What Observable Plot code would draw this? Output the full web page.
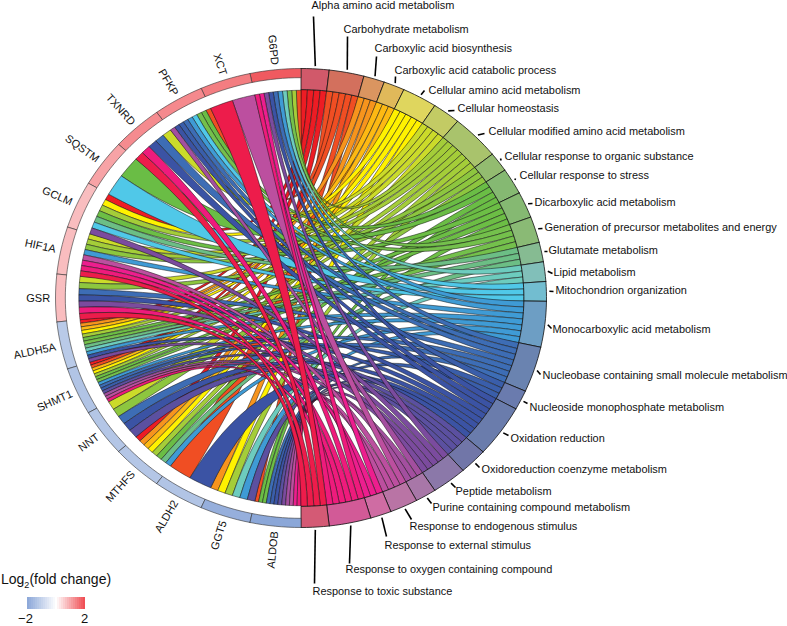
<!DOCTYPE html>
<html><head><meta charset="utf-8">
<script src="https://cdn.jsdelivr.net/npm/d3@7"></script>
<script src="https://cdn.jsdelivr.net/npm/@observablehq/plot@0.6"></script>
<style>
body{margin:0;background:#fff;font-family:"Liberation Sans",Arial,sans-serif}
#wrap{position:relative;width:787px;height:626px;overflow:hidden}
#legendTitle{position:absolute;left:1px;top:571px;font-size:14px;color:#111;line-height:17px;white-space:nowrap}
#legendTitle sub{font-size:9px;line-height:0}
</style></head><body><div id="wrap"><div id="chart"></div><div id="legendTitle">Log<sub>2</sub>(fold change)</div></div>
<script>
const terms=["Alpha amino acid metabolism","Carbohydrate metabolism","Carboxylic acid biosynthesis","Carboxylic acid catabolic process","Cellular amino acid metabolism","Cellular homeostasis","Cellular modified amino acid metabolism","Cellular response to organic substance","Cellular response to stress","Dicarboxylic acid metabolism","Generation of precursor metabolites and energy","Glutamate metabolism","Lipid metabolism","Mitochondrion organization","Monocarboxylic acid metabolism","Nucleobase containing small molecule metabolism","Nucleoside monophosphate metabolism","Oxidation reduction","Oxidoreduction coenzyme metabolism","Peptide metabolism","Purine containing compound metabolism","Response to endogenous stimulus","Response to external stimulus","Response to oxygen containing compound","Response to toxic substance"];
const ribbonColors=["#ED1C24","#F04E23","#F7941D","#FDB913","#FFF200","#CBDB2A","#A4CD39","#8DC63F","#6ABD45","#6CBE45","#74C04C","#6CBE85","#6DCCBE","#50C8E8","#3F9BD5","#3D6DB5","#3A5EAA","#3B53A4","#5B50A0","#7B4B9E","#A34F9F","#BC4F9F","#EC1E8E","#EE1B7C","#ED1C4B"];
const termArcColors=["#D1596A","#D3705D","#DA9560","#E0B95A","#DFD65E","#C3CB64","#A9C36C","#93BC70","#85B972","#85B972","#8ABA75","#86BB92","#81BFB9","#72BDD0","#6D9EC4","#6A83B0","#6A7BAE","#6A7CAC","#7176A8","#8B78A9","#A877A8","#B974A5","#CF6CA3","#D25A97","#D45A75"];
const genes=["G6PD","XCT","PFKP","TXNRD","SQSTM","GCLM","HIF1A","GSR","ALDH5A","SHMT1","NNT","MTHFS","ALDH2","GGT5","ALDOB"];
const foldChange=[1.82,1.44,1.3,1.28,1.02,0.73,0.73,0.73,-1.2,-1.33,-1.28,-1.28,-1.33,-1.8,-1.98];
// membership: term numbers (1-based) linked to each gene
const geneTerms=[
 [2,7,11,13,15,16,18,20,23,24],
 [22,25],
 [2,9,11,14,15,16,17,18,21],
 [6,16,18,24,25],
 [9,14],
 [1,5,7,10,12,14,20],
 [6,7,8,15,22,23,24,25],
 [6,8,16,18,20,24,25],
 [1,3,4,5,7,10,11,12,13,15,18,20],
 [1,2,4,5,7,10,11,15,16,17,19,21,22,24],
 [6,8,16,18,19],
 [1,3,4,5,7,9,12,15],
 [2,18],
 [3,5,7,13,15,19],
 [2,9,10,16,17,18,19,20,21,22,23,24]
];
const legendTicks=[-2,2];
// layout (page pixels) for the annotation text and the leader ends
const labelAnchors=[[311,5],[343,29],[374,48],[394,70],[428,90],[457,108],[488,131],[504,156],[519,175],[534,202],[544,227],[548,250],[553,272],[555,290],[552,329],[542,375],[529,407],[510,438],[481,469],[455,491],[432,507],[409,526],[384,545],[345,569],[312,591]];
const leaderEnds=[[313,16],[347,36],[376,56],[395,76],[424,90],[454,110],[484,133],[500,158],[515,178],[532,203],[542,228],[547,251],[552,273],[553,291],[551,328],[540,374],[527,403],[508,435],[479,467],[455,487],[431,503],[411,519],[386,536],[349,563],[314,583]];

const W=787,H=626,cx=300.5,cy=297.5,rx=245.5,ry=229.5;
const rTermIn=.908,rGeneIn=.96,rRibbonGene=.905;
const rad=a=>a*Math.PI/180;
const pol=(r,a)=>[r*Math.sin(rad(a)),r*Math.cos(rad(a))];
const ux=p=>(p-cx)/rx, uy=p=>(cy-p)/ry;

const counts=terms.map((_,t)=>d3.sum(geneTerms,g=>g.includes(t+1)?1:0));
const total=d3.sum(counts),unit=180/total;
const termStart=[];let acc=0;counts.forEach(c=>{termStart.push(acc);acc+=c*unit;});
const termUsed=terms.map(()=>0);

const arcPts=(r,a0,a1,n=8)=>d3.range(n+1).map(i=>pol(r,a0+(a1-a0)*i/n));
const bez=(p,q,n=28)=>d3.range(1,n).map(i=>{const t=i/n,u=1-t;return [u*u*p[0]+t*t*q[0],u*u*p[1]+t*t*q[1]];});
const band=(r0,r1,a0,a1)=>{const n=Math.max(4,Math.ceil((a1-a0)/1.5));const o=arcPts(r1,a0,a1,n),i=arcPts(r0,a1,a0,n);return [...o,...i,o[0]];};

const ribbons=[];
genes.forEach((g,gi)=>{
  const w=12/geneTerms[gi].length;
  geneTerms[gi].forEach((t,k)=>{
    const ti=t-1,u=termUsed[ti]++;
    const t0=termStart[ti]+u*unit,t1=t0+unit;
    const g0=360-12*gi-(k+1)*w,g1=g0+w;
    const A=arcPts(rTermIn,t0,t1,4),B=arcPts(rRibbonGene,g0,g1,Math.max(3,Math.ceil(w)));
    const pts=[...A,...bez(A[A.length-1],B[0]),...B,...bez(B[B.length-1],A[0]),A[0]];
    ribbons.push({term:ti,gene:gi,pts});
  });
});
ribbons.sort((a,b)=>a.term-b.term||a.gene-b.gene);
const ribbonPts=ribbons.flatMap((r,i)=>r.pts.map(p=>({x:p[0],y:p[1],id:i,c:ribbonColors[r.term]})));
const termPts=terms.flatMap((t,i)=>band(rTermIn,1,termStart[i],termStart[i]+counts[i]*unit).map(p=>({x:p[0],y:p[1],id:i,c:termArcColors[i]})));
const genePts=genes.flatMap((g,i)=>band(rGeneIn,1,360-12*(i+1),360-12*i).map(p=>({x:p[0],y:p[1],id:i,fc:foldChange[i]})));

const leaders=terms.map((t,i)=>{const s=pol(1.012,termStart[i]+counts[i]*unit/2);return {x1:s[0],y1:s[1],x2:ux(leaderEnds[i][0]),y2:uy(leaderEnds[i][1])};});
const termLabels=terms.map((t,i)=>({t,x:ux(labelAnchors[i][0]),y:uy(labelAnchors[i][1])}));
const geneLabels=genes.map((g,i)=>{const a=360-12*i-6,p=pol(1.022,a);return {g,x:p[0],y:p[1],rot:90-(12*i+6)};});

// colour key, drawn through the same colour scale
const keyLeft=27,keyRight=85,keyTop=597,keyBottom=609,keySteps=29;
const key=d3.range(keySteps).map(i=>({
  x1:ux(keyLeft+(keyRight-keyLeft)*i/keySteps),
  x2:ux(keyLeft+(keyRight-keyLeft)*(i+1)/keySteps),
  v:-2+4*(i+.5)/keySteps}));
const keyLabels=legendTicks.map(v=>({
  x:ux(v<0?25:84),y:uy(618),t:v<0?"\u2212"+Math.abs(v):String(v)}));

const plot=Plot.plot({
  width:W,height:H,margin:0,
  x:{domain:[ux(0),ux(W)],range:[0,W],axis:null},
  y:{domain:[uy(0),uy(H)],range:[0,H],axis:null},
  color:{type:"linear",domain:[-2,0,2],range:["#8AA6D8","#FFFFFF","#EF4A50"]},
  style:{fontFamily:'"Liberation Sans",Arial,sans-serif',background:"transparent"},
  marks:[
    Plot.line(ribbonPts,{x:"x",y:"y",z:"id",fill:{value:"c",scale:null},stroke:"#111",strokeWidth:.5,curve:"linear"}),
    Plot.line(termPts,{x:"x",y:"y",z:"id",fill:{value:"c",scale:null},stroke:"#111",strokeWidth:.8,curve:"linear"}),
    Plot.line(genePts,{x:"x",y:"y",z:"id",fill:"fc",stroke:"#333",strokeWidth:.6,curve:"linear"}),
    Plot.link(leaders,{x1:"x1",y1:"y1",x2:"x2",y2:"y2",stroke:"#000",strokeWidth:1.6}),
    Plot.text(termLabels,{x:"x",y:"y",text:"t",textAnchor:"start",fontSize:10.95,fill:"#111"}),
    Plot.text(geneLabels,{x:"x",y:"y",text:"g",rotate:"rot",textAnchor:"end",fontSize:11,fill:"#111"}),
    Plot.rect(key,{x1:"x1",x2:"x2",y1:uy(keyTop),y2:uy(keyBottom),fill:"v",shapeRendering:"crispEdges"}),
    Plot.text(keyLabels,{x:"x",y:"y",text:"t",fontSize:13,fill:"#111"})
  ]
});
document.getElementById("chart").appendChild(plot);
</script></body></html>
